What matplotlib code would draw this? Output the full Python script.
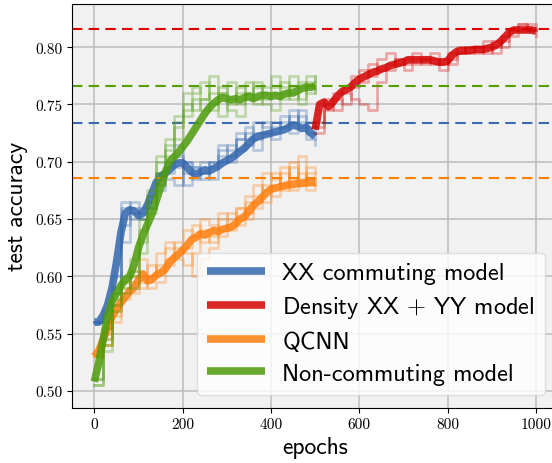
import numpy as np
import matplotlib
matplotlib.use("Agg")
import matplotlib.pyplot as plt

plt.rcParams['mathtext.fontset'] = 'cm'

# mean test accuracy, every 10 epochs
epochs_a = np.arange(0, 501, 10)
epochs_b = np.arange(500, 1001, 10)

xx_mean = [0.560, 0.560, 0.566, 0.575, 0.590, 0.612, 0.638, 0.655, 0.658, 0.657,
           0.653, 0.655, 0.662, 0.672, 0.682, 0.687, 0.690, 0.693, 0.697, 0.699,
           0.699, 0.695, 0.691, 0.689, 0.691, 0.693, 0.692, 0.694, 0.696, 0.699,
           0.701, 0.703, 0.706, 0.709, 0.712, 0.716, 0.720, 0.722, 0.723, 0.724,
           0.725, 0.726, 0.727, 0.728, 0.730, 0.732, 0.731, 0.729, 0.730, 0.725, 0.722]
nc_mean = [0.508, 0.525, 0.545, 0.565, 0.578, 0.585, 0.592, 0.597, 0.600, 0.610,
           0.625, 0.636, 0.645, 0.654, 0.666, 0.678, 0.690, 0.700, 0.704, 0.708,
           0.713, 0.718, 0.724, 0.730, 0.736, 0.742, 0.747, 0.751, 0.754, 0.756,
           0.755, 0.754, 0.755, 0.754, 0.756, 0.757, 0.755, 0.757, 0.758, 0.758,
           0.757, 0.758, 0.757, 0.759, 0.760, 0.760, 0.762, 0.764, 0.765, 0.765, 0.766]
qcnn_mean = [0.530, 0.535, 0.545, 0.555, 0.565, 0.571, 0.577, 0.582, 0.587, 0.590,
             0.597, 0.602, 0.596, 0.597, 0.601, 0.603, 0.606, 0.612, 0.616, 0.619,
             0.623, 0.627, 0.632, 0.634, 0.637, 0.636, 0.638, 0.640, 0.639, 0.641,
             0.642, 0.643, 0.646, 0.650, 0.652, 0.657, 0.662, 0.665, 0.669, 0.673,
             0.676, 0.677, 0.678, 0.679, 0.680, 0.680, 0.681, 0.681, 0.682, 0.682, 0.682]
dens_mean = [0.728, 0.750, 0.752, 0.748, 0.752, 0.757, 0.761, 0.763, 0.765, 0.769,
             0.772, 0.774, 0.776, 0.778, 0.779, 0.781, 0.782, 0.784, 0.785, 0.786,
             0.787, 0.789, 0.789, 0.789, 0.789, 0.789, 0.789, 0.788, 0.787, 0.787,
             0.788, 0.793, 0.796, 0.797, 0.797, 0.797, 0.798, 0.798, 0.798, 0.799,
             0.800, 0.802, 0.805, 0.809, 0.813, 0.815, 0.815, 0.815, 0.815, 0.815, 0.814]

# individual runs, every 20 epochs
runs_a = np.arange(0, 501, 20)
runs_b = np.arange(500, 1001, 20)

xx_runs = [
    [0.560, 0.565, 0.590, 0.660, 0.660, 0.650, 0.670, 0.690, 0.700, 0.705, 0.690, 0.685, 0.700,
     0.695, 0.710, 0.705, 0.720, 0.715, 0.735, 0.730, 0.730, 0.740, 0.735, 0.745, 0.735, 0.730],
    [0.560, 0.560, 0.575, 0.630, 0.655, 0.660, 0.660, 0.680, 0.685, 0.680, 0.700, 0.695, 0.690,
     0.700, 0.700, 0.715, 0.710, 0.725, 0.720, 0.725, 0.735, 0.730, 0.740, 0.730, 0.720, 0.715],
    [0.560, 0.570, 0.600, 0.665, 0.650, 0.650, 0.665, 0.690, 0.695, 0.715, 0.700, 0.690, 0.685,
     0.700, 0.715, 0.710, 0.720, 0.730, 0.725, 0.725, 0.720, 0.735, 0.725, 0.740, 0.730, 0.725],
    [0.560, 0.560, 0.585, 0.645, 0.665, 0.655, 0.660, 0.675, 0.690, 0.695, 0.680, 0.695, 0.690,
     0.685, 0.705, 0.700, 0.725, 0.720, 0.710, 0.735, 0.725, 0.730, 0.745, 0.735, 0.725, 0.720],
]
nc_runs = [
    [0.505, 0.545, 0.580, 0.590, 0.605, 0.640, 0.670, 0.700, 0.720, 0.735, 0.760, 0.765, 0.755,
     0.775, 0.760, 0.750, 0.765, 0.755, 0.770, 0.760, 0.765, 0.755, 0.775, 0.765, 0.770, 0.775],
    [0.510, 0.540, 0.570, 0.600, 0.600, 0.620, 0.655, 0.690, 0.705, 0.720, 0.745, 0.760, 0.770,
     0.745, 0.760, 0.770, 0.750, 0.760, 0.765, 0.755, 0.760, 0.770, 0.760, 0.755, 0.765, 0.760],
    [0.505, 0.555, 0.585, 0.585, 0.615, 0.650, 0.675, 0.705, 0.710, 0.740, 0.750, 0.745, 0.755,
     0.760, 0.740, 0.755, 0.760, 0.770, 0.750, 0.765, 0.775, 0.765, 0.755, 0.770, 0.760, 0.770],
    [0.510, 0.535, 0.575, 0.595, 0.590, 0.630, 0.660, 0.680, 0.715, 0.730, 0.740, 0.755, 0.745,
     0.750, 0.765, 0.745, 0.740, 0.760, 0.755, 0.750, 0.745, 0.760, 0.765, 0.750, 0.775, 0.765],
]
qcnn_runs = [
    [0.530, 0.545, 0.570, 0.590, 0.600, 0.615, 0.600, 0.610, 0.625, 0.630, 0.640, 0.635, 0.650,
     0.645, 0.640, 0.655, 0.650, 0.670, 0.680, 0.675, 0.690, 0.680, 0.700, 0.685, 0.695, 0.680],
    [0.530, 0.550, 0.575, 0.580, 0.585, 0.595, 0.610, 0.605, 0.615, 0.620, 0.625, 0.645, 0.630,
     0.635, 0.650, 0.640, 0.660, 0.655, 0.665, 0.680, 0.670, 0.690, 0.675, 0.705, 0.680, 0.685],
    [0.535, 0.540, 0.565, 0.595, 0.605, 0.590, 0.600, 0.620, 0.630, 0.615, 0.610, 0.620, 0.640,
     0.630, 0.655, 0.650, 0.645, 0.665, 0.660, 0.690, 0.685, 0.675, 0.695, 0.680, 0.690, 0.690],
    [0.530, 0.540, 0.560, 0.585, 0.595, 0.600, 0.590, 0.595, 0.610, 0.625, 0.620, 0.600, 0.615,
     0.625, 0.635, 0.645, 0.660, 0.650, 0.670, 0.665, 0.680, 0.695, 0.685, 0.690, 0.675, 0.680],
]
dens_runs = [
    [0.730, 0.755, 0.760, 0.765, 0.775, 0.780, 0.775, 0.790, 0.795, 0.785, 0.790, 0.795, 0.790,
     0.785, 0.790, 0.785, 0.795, 0.800, 0.795, 0.800, 0.805, 0.800, 0.815, 0.820, 0.815, 0.815],
    [0.725, 0.745, 0.755, 0.750, 0.765, 0.770, 0.785, 0.780, 0.785, 0.790, 0.780, 0.785, 0.790,
     0.795, 0.785, 0.795, 0.800, 0.795, 0.800, 0.795, 0.800, 0.810, 0.815, 0.815, 0.820, 0.810],
    [0.735, 0.750, 0.745, 0.760, 0.755, 0.750, 0.745, 0.770, 0.780, 0.790, 0.785, 0.790, 0.785,
     0.790, 0.780, 0.790, 0.795, 0.800, 0.800, 0.805, 0.795, 0.805, 0.810, 0.820, 0.815, 0.815],
]

# best accuracy reached by each model (dashed lines)
best = {'xx': 0.734, 'dens': 0.816, 'qcnn': 0.686, 'nc': 0.766}

labels = ['XX commuting model', r'Density XX $+$ YY model', 'QCNN', 'Non-commuting model']
colors = ['#3266ad', '#d40000', '#ff7f0e', '#4e9c0c']
dash_colors = ['#3a6ab0', '#dd0000', '#ff7f00', '#55a000']

series = [
    (epochs_a, xx_mean, runs_a, xx_runs, best['xx']),
    (epochs_b, dens_mean, runs_b, dens_runs, best['dens']),
    (epochs_a, qcnn_mean, runs_a, qcnn_runs, best['qcnn']),
    (epochs_a, nc_mean, runs_a, nc_runs, best['nc']),
]

fig = plt.figure(figsize=(5.52, 4.64), dpi=100)
ax = fig.add_axes([0.131, 0.1185, 0.880, 0.8715])
ax.set_facecolor('#f1f1f1')
ax.grid(True, color='#bcbcbc', linewidth=1.1)
ax.set_axisbelow(True)

for (ep, mean, rep, runs, top), c, dc, lab in zip(series, colors, dash_colors, labels):
    for r in runs:
        ax.plot(rep, r, color=c, alpha=0.3, linewidth=2, drawstyle='steps-post')
    ax.plot(ep, mean, color=c, alpha=0.85, linewidth=5.5, label=lab,
            solid_capstyle='butt')
    ax.axhline(top, color=dc, linestyle=(0, (5, 3)), linewidth=1.5)

ax.set_xlim(-50, 1050)
ax.set_ylim(0.485, 0.838)
ax.set_xticks([0, 200, 400, 600, 800, 1000])
ax.set_yticks([0.50, 0.55, 0.60, 0.65, 0.70, 0.75, 0.80])
ax.set_yticklabels(['0.50', '0.55', '0.60', '0.65', '0.70', '0.75', '0.80'])
for t in ax.get_xticklabels() + ax.get_yticklabels():
    t.set_fontfamily('cmr10')
    t.set_fontsize(11)

ax.set_xlabel('epochs', fontfamily='cmss10', fontsize=17, labelpad=3)
ax.set_ylabel('test accuracy', fontfamily='cmss10', fontsize=17, labelpad=5)

leg = ax.legend(loc='lower right', prop={'family': 'cmss10', 'size': 17.5},
                handlelength=2.4, handletextpad=0.7, labelspacing=0.42,
                borderaxespad=0.55, framealpha=0.8, edgecolor='#d8d8d8', fancybox=True)
for h in leg.get_lines():
    h.set_linewidth(5.5)

fig.savefig('out.png', dpi=100)
